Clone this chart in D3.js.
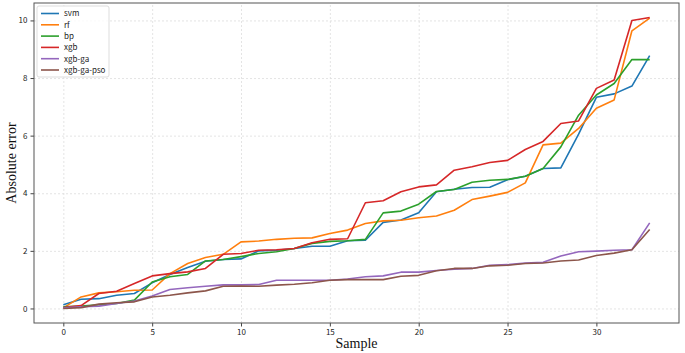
<!DOCTYPE html>
<html lang="en">
<head>
<meta charset="utf-8">
<title>Absolute error by sample</title>
<script src="https://cdn.jsdelivr.net/npm/d3@7"></script>
<style>
  body { margin: 0; background: #fff; }
  .tick text { font-family: "Noto Sans CJK SC", "DejaVu Sans", sans-serif; font-size: 8px; fill: #222; }
  .grid line { stroke: #ddd; stroke-dasharray: 2,2; stroke-width: 0.8; }
  .grid path { display: none; }
</style>
</head>
<body>
<div id="chart"></div>
<script>
// 数据
var names = ["svm", "rf", "bp", "xgb", "xgb-ga", "xgb-ga-pso"];
var colors = ["#1f77b4", "#ff7f0e", "#2ca02c", "#d62728", "#9467bd", "#8c564b"];
var svm = [0.13, 0.32, 0.34, 0.46, 0.52, 0.89, 1.18, 1.42, 1.64, 1.70, 1.72, 2.00, 2.02, 2.08, 2.16, 2.16, 2.35, 2.37, 2.99, 3.07, 3.32, 4.05, 4.14, 4.20, 4.21, 4.47, 4.59, 4.86, 4.88, 6.05, 7.33, 7.45, 7.72, 8.78];
var rf = [0.02, 0.40, 0.54, 0.58, 0.63, 0.64, 1.21, 1.56, 1.77, 1.88, 2.31, 2.34, 2.40, 2.44, 2.45, 2.60, 2.72, 2.95, 3.04, 3.06, 3.15, 3.21, 3.41, 3.78, 3.90, 4.03, 4.36, 5.68, 5.74, 6.25, 6.95, 7.24, 9.64, 10.08];
var bp = [0.06, 0.08, 0.13, 0.17, 0.29, 0.92, 1.10, 1.18, 1.65, 1.70, 1.80, 1.91, 1.97, 2.08, 2.26, 2.33, 2.35, 2.40, 3.32, 3.38, 3.62, 4.06, 4.13, 4.38, 4.45, 4.48, 4.59, 4.86, 5.61, 6.71, 7.41, 7.81, 8.64, 8.64];
var xgb = [0.03, 0.10, 0.52, 0.60, 0.87, 1.13, 1.21, 1.27, 1.39, 1.88, 1.91, 2.02, 2.04, 2.08, 2.28, 2.40, 2.42, 3.67, 3.74, 4.05, 4.22, 4.29, 4.80, 4.92, 5.07, 5.14, 5.52, 5.80, 6.42, 6.51, 7.64, 7.93, 10.00, 10.10];
var xgbGa = [0.02, 0.06, 0.08, 0.17, 0.26, 0.43, 0.66, 0.72, 0.77, 0.82, 0.82, 0.83, 0.98, 0.98, 0.98, 0.98, 1.02, 1.10, 1.13, 1.26, 1.26, 1.32, 1.36, 1.39, 1.50, 1.52, 1.58, 1.60, 1.82, 1.97, 1.99, 2.02, 2.04, 2.97];
var xgbGaPso = [0.00, 0.03, 0.15, 0.20, 0.23, 0.40, 0.46, 0.54, 0.61, 0.77, 0.78, 0.77, 0.81, 0.84, 0.89, 0.98, 1.00, 1.00, 1.00, 1.12, 1.15, 1.31, 1.39, 1.39, 1.48, 1.50, 1.56, 1.58, 1.65, 1.68, 1.84, 1.92, 2.04, 2.74];
var series = [svm, rf, bp, xgb, xgbGa, xgbGaPso];
var xTicks = [0, 5, 10, 15, 20, 25, 30];
var yTicks = [0, 2, 4, 6, 8, 10];

// 画布
var w = 685, h = 353;
var padL = 34, padR = 679, padT = 3, padB = 323;
var svg = d3.select("#chart").append("svg")
            .attr("width", w)
            .attr("height", h);

// 比例尺
var n = svm.length - 1;
var yMax = d3.max(series, function(s){ return d3.max(s); });
var xScale = d3.scaleLinear()
               .domain([-0.05 * n, n * 1.05])
               .range([padL, padR]);
var yScale = d3.scaleLinear()
               .domain([-0.05 * yMax, yMax * 1.05])
               .range([padB, padT]);

// 网格
svg.append("g")
   .attr("class", "grid")
   .attr("transform", "translate(0," + padB + ")")
   .call(d3.axisBottom(xScale).tickValues(xTicks).tickSize(-(padB - padT)).tickFormat(""));
svg.append("g")
   .attr("class", "grid")
   .attr("transform", "translate(" + padL + ",0)")
   .call(d3.axisLeft(yScale).tickValues(yTicks).tickSize(-(padR - padL)).tickFormat(""));

// 折线
var line = d3.line()
             .x(function(d, i){ return xScale(i); })
             .y(function(d){ return yScale(d); });
svg.selectAll("path.series")
   .data(series)
   .enter()
   .append("path")
   .attr("class", "series")
   .attr("d", line)
   .attr("fill", "none")
   .attr("stroke", function(d, i){ return colors[i]; })
   .attr("stroke-width", 1.6)
   .attr("stroke-linejoin", "round");

// 坐标轴
var xAxis = d3.axisBottom(xScale).tickValues(xTicks).tickSize(3.5).tickPadding(3);
svg.append("g")
   .attr("transform", "translate(0," + padB + ")")
   .call(xAxis)
   .call(function(g){ g.select(".domain").remove(); });
var yAxis = d3.axisLeft(yScale).tickValues(yTicks).tickSize(3.5).tickPadding(3);
svg.append("g")
   .attr("transform", "translate(" + padL + ",0)")
   .call(yAxis)
   .call(function(g){ g.select(".domain").remove(); });
svg.selectAll(".tick line").attr("stroke", "#444");
svg.selectAll(".grid .tick line").attr("stroke", "#ddd");

// 边框
svg.append("rect")
   .attr("x", padL)
   .attr("y", padT)
   .attr("width", padR - padL)
   .attr("height", padB - padT)
   .attr("fill", "none")
   .attr("stroke", "#555")
   .attr("stroke-width", 1);

// 轴标题
svg.append("text")
   .attr("x", (padL + padR) / 2)
   .attr("y", 348)
   .attr("text-anchor", "middle")
   .attr("font-family", "Liberation Serif, Times New Roman, serif")
   .attr("font-size", "14px")
   .attr("fill", "#111")
   .text("Sample");
svg.append("text")
   .attr("transform", "translate(16," + ((padT + padB) / 2) + ") rotate(-90)")
   .attr("text-anchor", "middle")
   .attr("font-family", "Liberation Serif, Times New Roman, serif")
   .attr("font-size", "14px")
   .attr("fill", "#111")
   .text("Absolute error");

// 图例
var legend = svg.append("g").attr("transform", "translate(37,6)");
legend.append("rect")
      .attr("width", 72)
      .attr("height", 71)
      .attr("rx", 2)
      .attr("fill", "#fff")
      .attr("fill-opacity", 0.8)
      .attr("stroke", "#ddd");
var item = legend.selectAll("g.item")
                 .data(names)
                 .enter()
                 .append("g")
                 .attr("class", "item")
                 .attr("transform", function(d, i){ return "translate(0," + (7.5 + i * 11.3) + ")"; });
item.append("line")
    .attr("x1", 4).attr("x2", 22)
    .attr("stroke", function(d, i){ return colors[i]; })
    .attr("stroke-width", 1.6);
item.append("text")
    .attr("x", 27)
    .attr("dy", "0.35em")
    .attr("font-family", "Noto Sans CJK SC, DejaVu Sans, sans-serif")
    .attr("font-size", "8px")
    .attr("fill", "#222")
    .text(function(d){ return d; });
</script>
</body>
</html>
